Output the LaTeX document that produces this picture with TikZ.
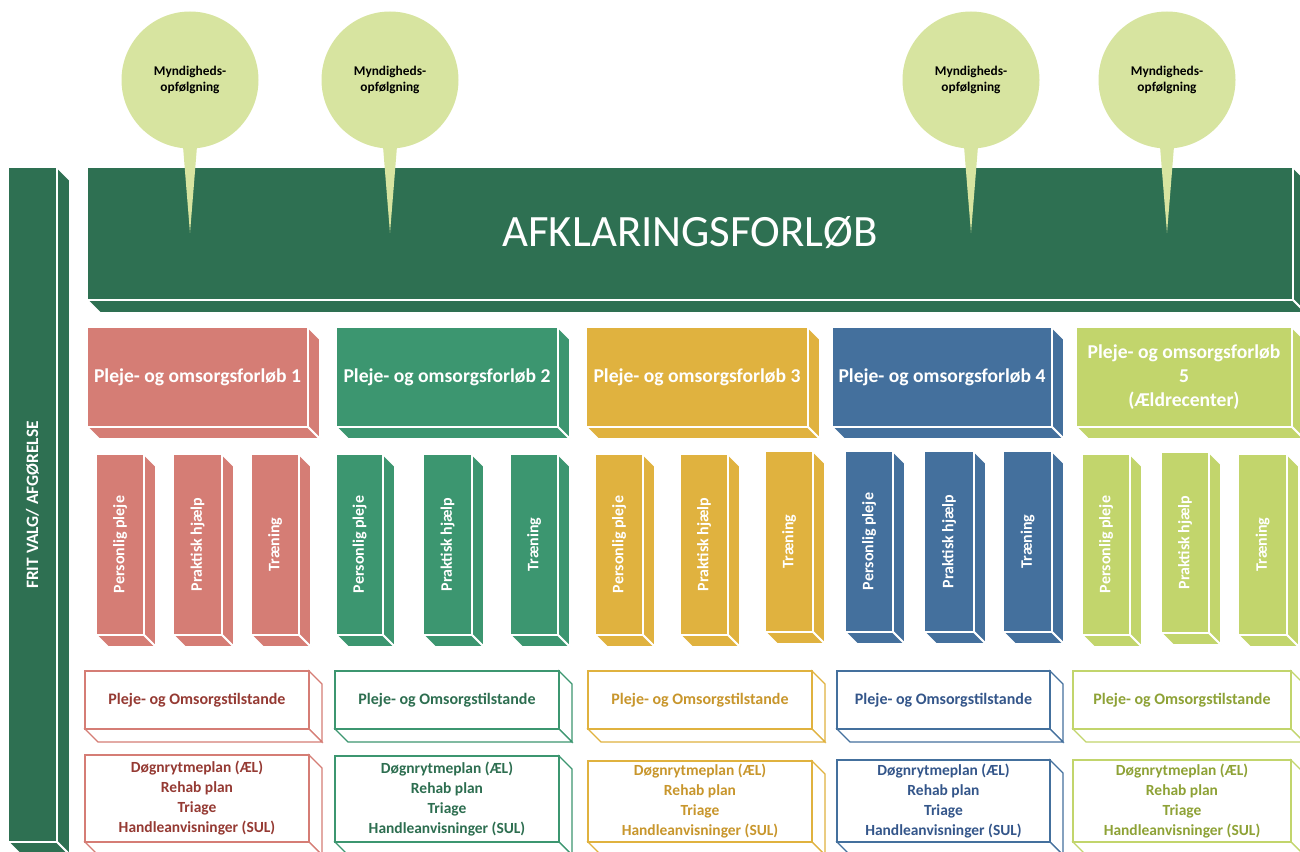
\documentclass[tikz,border=0pt]{standalone}
\usepackage{fontspec}
\setmainfont{Carlito}
\definecolor{mainG}{HTML}{2E7052}
\definecolor{bub}{HTML}{D7E4A0}
\definecolor{cA}{HTML}{D57D75}
\definecolor{cB}{HTML}{3C9670}
\definecolor{cC}{HTML}{E0B23F}
\definecolor{cD}{HTML}{44709D}
\definecolor{cE}{HTML}{C2D56C}
\definecolor{tA}{HTML}{953A33}
\definecolor{tB}{HTML}{2D6E50}
\definecolor{tC}{HTML}{C8962C}
\definecolor{tD}{HTML}{34568A}
\definecolor{tE}{HTML}{8EA236}
\newcommand\prism[6]{%
  \path[#6] (#3,#2) -- ({#3+#5},{#2+#5}) -- ({#3+#5},{#4+#5}) -- (#3,#4) -- cycle;
  \path[#6] (#1,#4) -- (#3,#4) -- ({#3+#5},{#4+#5}) -- ({#1+#5},{#4+#5}) -- cycle;
  \path[#6] (#1,#2) rectangle (#3,#4);}
\tikzset{
  solidface/.style={fill=#1, draw=white, line width=1.4pt, line join=miter},
  openface/.style={fill=white, draw=#1, line width=0.9pt, line join=miter},
  bubble/.style={circle, fill=bub, minimum size=102.75pt, inner sep=0pt, align=center,
    font=\bfseries\fontsize{10}{12}\selectfont, text=black},
  bubblefill/.style={fill=bub},
  headtext/.style={text=white, align=center, font=\bfseries\fontsize{14.7}{18}\selectfont},
  vtext/.style={text=white, rotate=90, font=\bfseries\fontsize{12}{14}\selectfont},
  statetext/.style={align=center, font=\bfseries\fontsize{12}{14}\selectfont},
  plantext/.style={align=center, font=\bfseries\fontsize{11.6}{15}\selectfont},
}
\begin{document}
\begin{tikzpicture}[x=0.75pt,y=-0.75pt]
\useasboundingbox (0,0) rectangle (1300,852);
\clip (0,0) rectangle (1300,852);
% left bar
\prism{8}{167}{57}{842}{13}{solidface=mainG}
\node[text=white, rotate=90, font=\bfseries\fontsize{13}{15}\selectfont] (fritvalg) at (32.5,505) {FRIT VALG/ AFGØRELSE};
% main bar
\prism{87}{167}{1293}{300}{13}{solidface=mainG}
\node[text=white, font=\fontsize{33.6}{40}\selectfont] (afk) at (690,233) {AFKLARINGSFORLØB};
% callouts
\foreach \n/\cx in {1/190,2/390,3/971,4/1167} {
  \node[bubble] (m\n) at (\cx,80) {Myndigheds-\\opfølgning};
  \coordinate (tip\n) at (\cx,233);
  \fill[bubblefill] ({\cx-7.5},140) .. controls ({\cx-3.5},190) .. (tip\n) .. controls ({\cx+3.5},190) .. ({\cx+7.5},140) -- cycle;
}
% top column boxes
\foreach \n/\xa/\xb/\cl in {1/87/308/cA,2/336/558/cB,3/586/808/cC,4/832/1052/cD,5/1076/1292/cE} {
  \prism{\xa}{327}{\xb}{427}{12}{solidface=\cl}
}
\node[headtext] (h1) at (197.5,377) {Pleje- og omsorgsforløb 1};
\node[headtext] (h2) at (447,377) {Pleje- og omsorgsforløb 2};
\node[headtext] (h3) at (697,377) {Pleje- og omsorgsforløb 3};
\node[headtext] (h4) at (942,377) {Pleje- og omsorgsforløb 4};
\node[headtext] (h5) at (1184,377) {Pleje- og omsorgsforløb\\5\\(Ældrecenter)};
% vertical boxes
\foreach \n/\xa/\xb/\ya/\yb/\cl/\lab in {
  1a/96/144/454/635/cA/Personlig pleje, 1b/173/222/454/635/cA/Praktisk hjælp, 1c/251/299/454/635/cA/Træning,
  2a/336/383/454/635/cB/Personlig pleje, 2b/423/472/454/635/cB/Praktisk hjælp, 2c/510/558/454/635/cB/Træning,
  3a/595/643/454/635/cC/Personlig pleje, 3b/680/728/454/635/cC/Praktisk hjælp, 3c/765/813/451/632/cC/Træning,
  4a/845/893/451/632/cD/Personlig pleje, 4b/924/974/451/632/cD/Praktisk hjælp, 4c/1003/1052/451/632/cD/Træning,
  5a/1082/1130/454/635/cE/Personlig pleje, 5b/1161/1209/452/633/cE/Praktisk hjælp, 5c/1238/1287/454/635/cE/Træning} {
  \prism{\xa}{\ya}{\xb}{\yb}{12}{solidface=\cl}
  \node[vtext] (v\n) at ({(\xa+\xb)/2},{(\ya+\yb)/2}) {\lab};
}
% state boxes and plan boxes
\foreach \n/\xa/\xb/\yb/\cl/\tc in {1/85/309/755/cA/tA, 2/335/559/756/cB/tB, 3/588/812/761/cC/tC, 4/837/1050/760/cD/tD, 5/1073/1291/760/cE/tE} {
  \prism{\xa}{671}{\xb}{729}{13}{openface=\cl}
  \node[statetext, text=\tc] (s\n) at ({(\xa+\xb)/2},700) {Pleje- og Omsorgstilstande};
  \prism{\xa}{\yb}{\xb}{842}{13}{openface=\cl}
  \node[plantext, text=\tc] (p\n) at ({(\xa+\xb)/2},{(\yb+842)/2}) {Døgnrytmeplan (ÆL)\\Rehab plan\\Triage\\Handleanvisninger (SUL)};
}
\end{tikzpicture}
\end{document}
